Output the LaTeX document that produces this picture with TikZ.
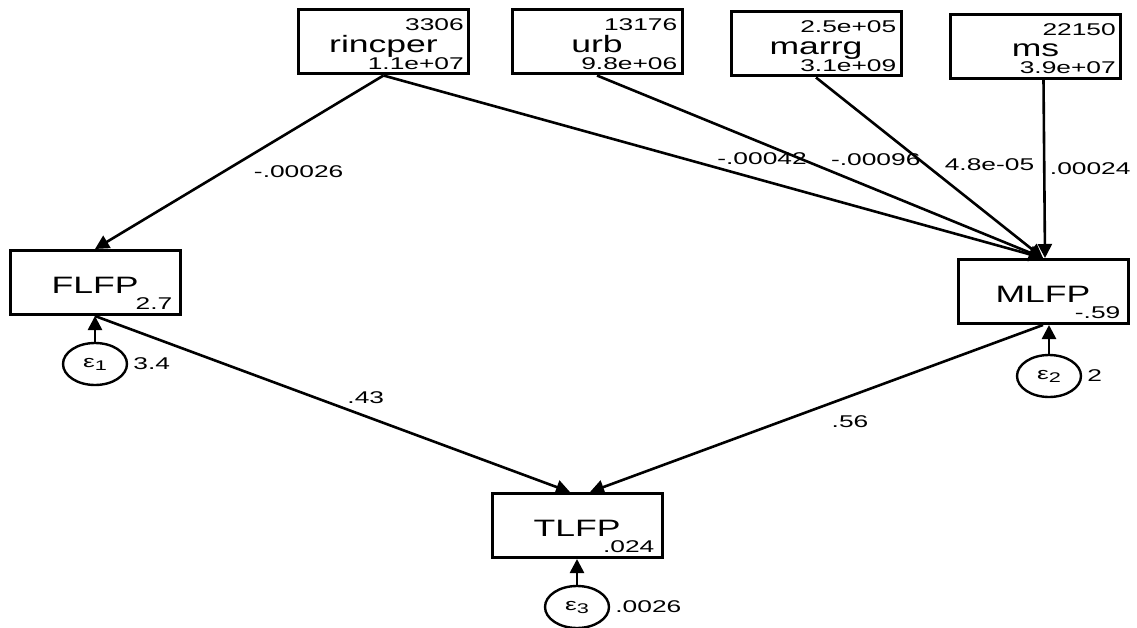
\documentclass[tikz,border=0pt]{standalone}
\usepackage{fontspec}
\setmainfont{Liberation Sans}
\newfontfamily\namefont[FakeStretch=1.5]{Liberation Sans}
\newfontfamily\statfont[FakeStretch=1.55]{Liberation Sans}
\usetikzlibrary{shapes,arrows,arrows.meta}
\tikzstyle{varbox} = [rectangle, draw, line width=3pt, minimum width=170pt, minimum height=64pt,
    inner sep=0pt, text height=21pt, text depth=0pt, font=\namefont\fontsize{23.7}{26}\selectfont]
\tikzstyle{errvar} = [ellipse, draw, line width=2.4pt, minimum width=64pt, minimum height=42pt,
    inner sep=0pt, font=\statfont\fontsize{17}{19}\selectfont]
\tikzstyle{stat} = [font=\statfont\fontsize{17}{19}\selectfont, inner sep=0pt]
\tikzstyle{mean} = [stat, anchor=north east, xshift=-6pt, yshift=-10pt]
\tikzstyle{vari} = [stat, anchor=south east, xshift=-6pt, yshift=6pt]
\tikzstyle{icept} = [stat, anchor=south east, xshift=-9pt, yshift=6.5pt]
\tikzstyle{evar} = [stat, label distance=5pt]
\tikzstyle{elabel} = [stat]
\tikzstyle{line} = [draw, line width=2.6pt, -{Triangle[length=14pt,width=14pt]}]

\begin{document}
\begin{tikzpicture}[x=1pt, y=-1pt]
    \useasboundingbox (0,0) rectangle (1137,628);
    % Place nodes
    \node [varbox, label={[mean]north east:3306}, label={[vari]south east:1.1e+07}] (rincper) at (383.5,42) {rincper};
    \node [varbox, label={[mean]north east:13176}, label={[vari]south east:9.8e+06}] (urb) at (597,42) {urb};
    \node [varbox, label={[mean]north east:2.5e+05}, label={[vari]south east:3.1e+09}] (marrg) at (816,44) {marrg};
    \node [varbox, label={[mean]north east:22150}, label={[vari]south east:3.9e+07}] (ms) at (1035.5,46.5) {ms};
    \node [varbox, label={[icept]south east:2.7}] (FLFP) at (95,282.5) {FLFP};
    \node [varbox, label={[icept]south east:-.59}] (MLFP) at (1043,291.5) {MLFP};
    \node [varbox, label={[icept]south east:.024}] (TLFP) at (577,525.5) {TLFP};
    \node [errvar, label={[evar]east:3.4}] (e1) at (95,364) {ε\raisebox{-3pt}{\fontsize{14}{14}\selectfont 1}};
    \node [errvar, label={[evar]east:2}] (e2) at (1049,376) {ε\raisebox{-3pt}{\fontsize{14}{14}\selectfont 2}};
    \node [errvar, label={[evar]east:.0026}] (e3) at (577,607) {ε\raisebox{-3pt}{\fontsize{14}{14}\selectfont 3}};
    % Draw edges
    \path [line] (rincper.south) -- node [elabel, pos=.45, xshift=45, yshift=-18] {-.00026} (FLFP.north);
    \path [line] (rincper.south) -- node [elabel, pos=.574, yshift=22] {-.00042} (MLFP.north);
    \path [line] (urb.south) -- node [elabel, pos=.625, yshift=30] {-.00096} (MLFP.north);
    \path [line] (marrg.south) -- node [elabel, pos=.5, xshift=60, yshift=3] {4.8e-05} (MLFP.north);
    \path [line] ([xshift=8]ms.south) -- node [elabel, pos=.5, xshift=46] {.00024} ([xshift=2]MLFP.north);
    \path [line] (FLFP.south) -- node [elabel, pos=.57, yshift=19] {.43} ([xshift=-7]TLFP.north);
    \path [line] (MLFP.south) -- node [elabel, pos=.426, yshift=-26] {.56} ([xshift=13]TLFP.north);
    \path [line] (e1) -- (FLFP);
    \path [line] (e2) -- (e2 |- MLFP.south);
    \path [line] (e3) -- (TLFP);
\end{tikzpicture}
\end{document}
